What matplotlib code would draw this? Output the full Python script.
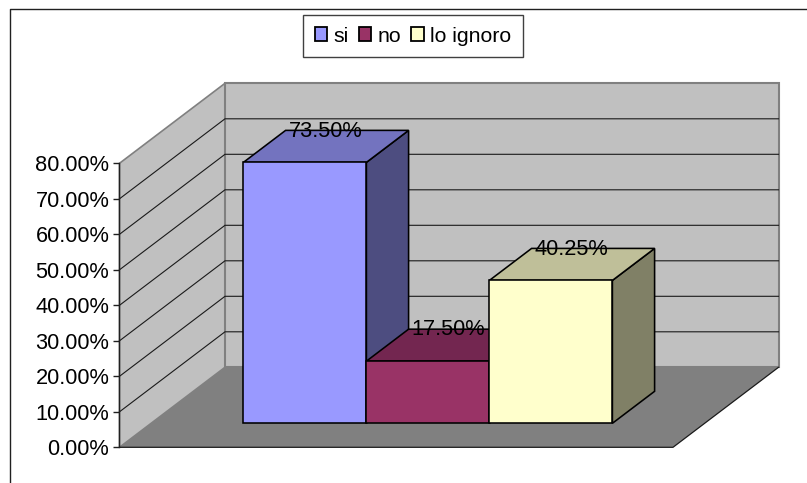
import matplotlib
matplotlib.use('Agg')
import matplotlib.pyplot as plt
from matplotlib.lines import Line2D
from matplotlib.patches import Patch, Polygon

plt.rcParams['font.family'] = ['Liberation Sans', 'DejaVu Sans']

categories = ['si', 'no', 'lo ignoro']
values = [73.50, 17.50, 40.25]
value_labels = ['73.50%', '17.50%', '40.25%']
y_ticks = [0, 10, 20, 30, 40, 50, 60, 70, 80]
y_tick_labels = ['0.00%', '10.00%', '20.00%', '30.00%', '40.00%', '50.00%', '60.00%', '70.00%', '80.00%']

front_colors = ['#9999FF', '#993366', '#FFFFCC']
side_colors = ['#4D4D80', '#4D1A33', '#808066']
top_colors = ['#7373BF', '#732650', '#BFBF99']

W, H = 807, 483
FONT = 15.7

# 3d look: going back one unit of depth moves this far in x (axes fraction) and y (percent)
DEPTH_X = 105.5 / 553.5
DEPTH_Y = 80 / 3.55


def project(x, value, depth=0.0):
    return x + depth * DEPTH_X, value + depth * DEPTH_Y


def face(ax, corners, color, edge='black', lw=1.15, z=2):
    pts = [project(*c) for c in corners]
    ax.add_patch(Polygon(pts, closed=True, facecolor=color, edgecolor=edge,
                         linewidth=lw, zorder=z, clip_on=False, joinstyle='miter'))


fig = plt.figure(figsize=(W / 100, H / 100), dpi=100)
ax = fig.add_axes([119.5 / W, 1 - 447.3 / H, 553.5 / W, 284 / H])
ax.set_xlim(0, 1)
ax.set_ylim(0, 80)
ax.patch.set_visible(False)

for s in ['top', 'right', 'bottom']:
    ax.spines[s].set_visible(False)
ax.spines['left'].set_color('#202020')
ax.spines['left'].set_linewidth(1.0)
ax.spines['left'].set_zorder(3)

ax.set_xticks([])
ax.set_yticks(y_ticks)
ax.set_yticklabels(y_tick_labels, fontsize=FONT, color='black')
ax.tick_params(axis='y', length=4.3, width=1.0, pad=3, color='#202020')

# walls and floor
face(ax, [(0, 0, 0), (1, 0, 0), (1, 0, 1), (0, 0, 1)], '#808080', edge='none', z=1)
face(ax, [(0, 0, 0), (0, 80, 0), (0, 80, 1), (0, 0, 1)], '#C0C0C0', edge='#808080', lw=1.2, z=1)
face(ax, [(0, 0, 1), (1, 0, 1), (1, 80, 1), (0, 80, 1)], '#C0C0C0', edge='#808080', lw=1.5, z=1)

for t in y_ticks[1:-1]:
    xs, ys = zip(project(0, t, 0), project(0, t, 1), project(1, t, 1))
    ax.plot(xs, ys, color='#1a1a1a', lw=0.8, zorder=1.5, clip_on=False)

xs, ys = zip(project(0, 0, 0), project(1, 0, 0), project(1, 0, 1))
ax.plot(xs, ys, color='#1a1a1a', lw=0.9, zorder=1.5, clip_on=False)

# bars, excel style: gap width 150%, bars sit between depth 0.3 and 0.7
bar_w = 1 / 4.5
gap = 0.75 / 4.5
d0, d1 = 0.3, 0.7
for i, v in enumerate(values):
    x0 = gap + i * bar_w
    x1 = x0 + bar_w
    z = 2 + i
    face(ax, [(x1, 0, d0), (x1, 0, d1), (x1, v, d1), (x1, v, d0)], side_colors[i], z=z)
    face(ax, [(x0, v, d0), (x1, v, d0), (x1, v, d1), (x0, v, d1)], top_colors[i], z=z)
    face(ax, [(x0, 0, d0), (x1, 0, d0), (x1, v, d0), (x0, v, d0)], front_colors[i], z=z)

for i, v in enumerate(values):
    lx, ly = project(gap + (i + 0.5) * bar_w, v, 0.5)
    ax.annotate(value_labels[i], (lx, ly), xytext=(-0.5, 11), textcoords='offset points',
                ha='center', va='center', fontsize=FONT, color='black', zorder=10,
                annotation_clip=False)

# legend
handles = [Patch(facecolor=c, edgecolor='black', linewidth=1.3) for c in front_colors]
leg = fig.legend(handles, categories, ncol=3, loc='center', bbox_to_anchor=(413 / W, 1 - 36 / H),
                 fontsize=15.3, fancybox=False, framealpha=1, edgecolor='#404040',
                 handlelength=0.6, handleheight=0.6, handletextpad=0.3, columnspacing=0.45,
                 borderpad=0.55, borderaxespad=0)
leg.get_frame().set_linewidth(1.0)

# outer frame runs off the picture on the right and bottom
fig.add_artist(Line2D([9.5 / W, 9.5 / W, 1], [0, 1 - 9 / H, 1 - 9 / H], color='#202020', lw=1.0))

fig.savefig('out.png', dpi=100)
plt.close(fig)
